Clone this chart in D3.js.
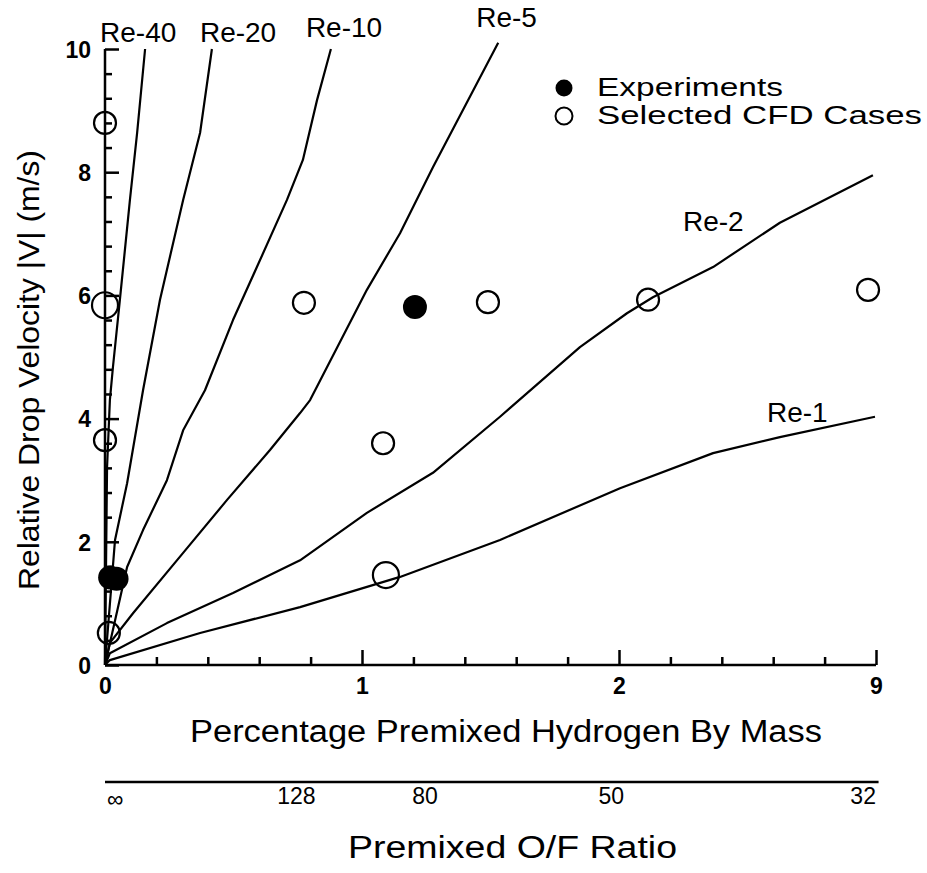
<!DOCTYPE html>
<html>
<head>
<meta charset="utf-8">
<script src="https://cdn.jsdelivr.net/npm/d3@7"></script>
<style>
  html, body { margin: 0; padding: 0; background: #fff; }
  svg { display: block; font-family: "Liberation Sans", Arial, Helvetica, sans-serif; }
  .num { font-family: "Liberation Sans Narrow", "Liberation Sans", Arial, sans-serif; }
</style>
</head>
<body>
<svg id="chart" width="927" height="873"></svg>
<script>
// Constant-Reynolds-number curves: [% premixed H2 by mass, relative drop velocity m/s]
const re40 = [[0,0],[0.008,3.21],[0.019,4.30],[0.031,4.84],[0.058,5.93],[0.097,7.55],[0.125,8.64],[0.156,10.0]];
const re20 = [[0,0],[0.039,2.03],[0.086,2.95],[0.148,4.46],[0.214,5.93],[0.304,7.55],[0.370,8.64],[0.416,10.0]];
const re10 = [[0,0],[0.086,1.59],[0.148,2.19],[0.241,3.00],[0.304,3.81],[0.389,4.46],[0.498,5.60],[0.591,6.46],[0.708,7.55],[0.770,8.20],[0.825,9.17],[0.879,10.0]];
const re5  = [[0,0],[0.019,0.36],[0.109,0.84],[0.304,1.82],[0.475,2.68],[0.642,3.49],[0.759,4.09],[0.798,4.30],[1.019,6.09],[1.148,7.01],[1.276,8.08],[1.53,10.1]];
const re2  = [[0,0],[0.019,0.19],[0.241,0.68],[0.498,1.17],[0.759,1.70],[1.019,2.47],[1.276,3.12],[1.537,4.03],[1.848,5.16],[2.031,5.71],[2.132,5.97],[2.366,6.46],[2.626,7.18],[2.988,7.95]];
const re1  = [[0,0],[0.019,0.08],[0.370,0.52],[0.759,0.94],[1.148,1.43],[1.537,2.03],[2.004,2.87],[2.366,3.44],[2.626,3.70],[2.996,4.03]];

const curveNames = ["Re-40","Re-20","Re-10","Re-5","Re-2","Re-1"];
const curves = [re40, re20, re10, re5, re2, re1];

// Measured and simulated operating points
const experimentsX = [0.02, 0.045, 1.206];
const experimentsY = [1.42, 1.40, 5.81];
const cfdX = [0, 0, 0, 0.015, 0.774, 1.082, 1.093, 1.49, 2.113, 2.969];
const cfdY = [8.80, 5.84, 3.65, 0.52, 5.88, 3.60, 1.46, 5.89, 5.93, 6.09];
const cfdLarge = [false, true, false, false, false, false, true, false, false, false];

// Axis ticks
const xMajorTicks = [0, 1, 2, 3];
const xTickLabels = ["0", "1", "2", "9"];
const yMajorTicks = [0, 2, 4, 6, 8, 10];
const ofLabels = ["\u221e", "128", "80", "50", "32"];
const ofAtPercent = [0.04, 0.745, 1.245, 1.97, 2.95];

const svg = d3.select("#chart");
const x = d3.scaleLinear().domain([0, 3]).range([105, 876]);
const y = d3.scaleLinear().domain([0, 10]).range([665, 49]);

// Axes with inward-pointing ticks
const yAxis = svg.append("g").attr("transform", `translate(${x(0)},0)`)
  .call(d3.axisLeft(y).tickValues(yMajorTicks).tickSize(-14).tickPadding(14).tickFormat(d3.format("d")));
const yMinor = svg.append("g").attr("transform", `translate(${x(0)},0)`)
  .call(d3.axisLeft(y).tickValues(d3.range(0, 10.01, 0.4).filter(v => Math.abs(v / 2 - Math.round(v / 2)) > 1e-6)).tickSize(-7).tickFormat(""));
const xAxis = svg.append("g").attr("transform", `translate(0,${y(0)})`)
  .call(d3.axisBottom(x).tickValues(xMajorTicks).tickSize(-15).tickPadding(13).tickFormat((d, i) => xTickLabels[i]));
const xMinor = svg.append("g").attr("transform", `translate(0,${y(0)})`)
  .call(d3.axisBottom(x).tickValues(d3.range(0.2, 3, 0.2).filter(v => Math.abs(v - Math.round(v)) > 1e-6)).tickSize(-8).tickFormat(""));

[yAxis, yMinor, xAxis, xMinor].forEach(g => {
  g.select(".domain").attr("stroke", "#000").attr("stroke-width", 2.5);
  g.selectAll(".tick line").attr("stroke", "#000").attr("stroke-width", 2.5);
});
yMinor.select(".domain").remove();
xMinor.select(".domain").remove();
yAxis.select(".domain").attr("d", `M0,${y(0)}V${y(10)}`);
xAxis.select(".domain").attr("d", `M${x(0)},0H${x(3)}`);
yAxis.selectAll(".tick text").attr("class", "num").attr("font-size", 23).attr("font-weight", "bold")
  .attr("fill", "#000").attr("dy", "0.36em");
xAxis.selectAll(".tick text").attr("class", "num").attr("font-size", 23).attr("font-weight", "bold")
  .attr("fill", "#000");

// Reynolds-number curves
const line = d3.line().x(d => x(d[0])).y(d => y(d[1]));
svg.append("g").selectAll("path").data(curves).join("path")
  .attr("d", line)
  .attr("fill", "none")
  .attr("stroke", "#000")
  .attr("stroke-width", 2.2)
  .attr("stroke-linejoin", "round");

// Curve labels, placed relative to each curve's end point
const labelOffset = [[-45, -7], [-12, -7], [-25, -12], [-22, -16], [-190, 56], [-108, 5]];
svg.append("g").selectAll("text").data(curveNames).join("text")
  .attr("x", (d, i) => x(curves[i][curves[i].length - 1][0]) + labelOffset[i][0])
  .attr("y", (d, i) => y(curves[i][curves[i].length - 1][1]) + labelOffset[i][1])
  .attr("font-size", 28)
  .text(d => d);

// CFD cases (open) and experiments (filled)
svg.append("g").selectAll("circle").data(cfdX).join("circle")
  .attr("cx", d => x(d))
  .attr("cy", (d, i) => y(cfdY[i]))
  .attr("r", (d, i) => cfdLarge[i] ? 13 : 11)
  .attr("fill", "none")
  .attr("stroke", "#000")
  .attr("stroke-width", 2.2);
svg.append("g").selectAll("circle").data(experimentsX).join("circle")
  .attr("cx", d => x(d))
  .attr("cy", (d, i) => y(experimentsY[i]))
  .attr("r", 12)
  .attr("fill", "#000");

// Legend
const legend = svg.append("g").attr("transform", "translate(564,88)");
legend.append("circle").attr("r", 8.5).attr("fill", "#000");
legend.append("circle").attr("cy", 28).attr("r", 8.5).attr("fill", "none").attr("stroke", "#000").attr("stroke-width", 2);
legend.append("text").attr("x", 33).attr("y", 8).attr("font-size", 25)
  .attr("textLength", 186).attr("lengthAdjust", "spacingAndGlyphs").text("Experiments");
legend.append("text").attr("x", 33).attr("y", 36).attr("font-size", 25)
  .attr("textLength", 325).attr("lengthAdjust", "spacingAndGlyphs").text("Selected CFD Cases");

// Axis titles
svg.append("text").attr("x", 190).attr("y", 742)
  .attr("font-size", 31).attr("textLength", 632).attr("lengthAdjust", "spacingAndGlyphs")
  .text("Percentage Premixed Hydrogen By Mass");
svg.append("text").attr("transform", "translate(39,370) rotate(-90)").attr("x", -220)
  .attr("font-size", 30).attr("textLength", 440).attr("lengthAdjust", "spacingAndGlyphs")
  .text("Relative Drop Velocity |V| (m/s)");

// Secondary O/F ratio scale
svg.append("line").attr("x1", x(0)).attr("x2", x(3.01)).attr("y1", 782).attr("y2", 782)
  .attr("stroke", "#000").attr("stroke-width", 2.5);
svg.append("g").selectAll("text").data(ofLabels).join("text")
  .attr("class", "num")
  .attr("x", (d, i) => x(ofAtPercent[i]))
  .attr("y", (d, i) => i === 0 ? 807 : 804)
  .attr("text-anchor", "middle")
  .attr("font-size", 23)
  .text(d => d);
svg.append("text").attr("x", 348).attr("y", 858)
  .attr("font-size", 31).attr("textLength", 329).attr("lengthAdjust", "spacingAndGlyphs")
  .text("Premixed O/F Ratio");
</script>
</body>
</html>
